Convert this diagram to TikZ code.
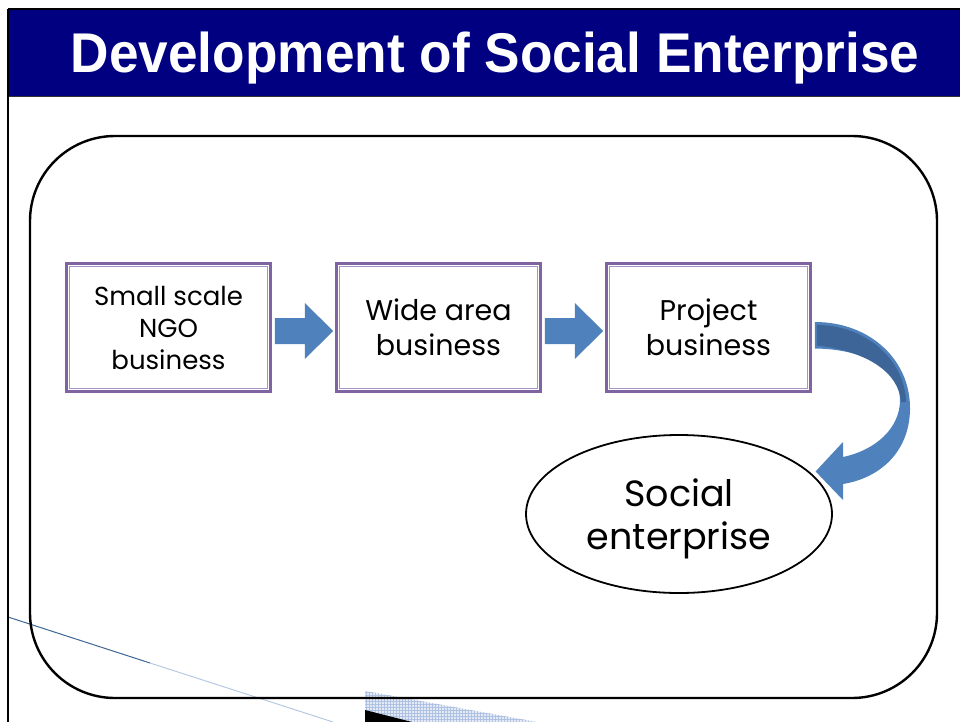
\documentclass[tikz,border=0pt]{standalone}
\usepackage{fontspec}
\setmainfont{Liberation Sans}
\newfontfamily\gothic{Poppins}
\usetikzlibrary{calc,patterns,shapes.geometric}
\definecolor{navyband}{HTML}{000080}
\definecolor{ablue}{HTML}{4F81BD}
\definecolor{adark}{HTML}{3E6598}
\definecolor{boxpurple}{HTML}{8064A2}
\definecolor{boxinner}{HTML}{A594C4}
\definecolor{gridfill}{HTML}{E4EAF5}
\definecolor{gridline}{HTML}{AFC2E2}
\tikzset{
  nbox/.style={draw=boxpurple, line width=2.6pt, fill=white, minimum width=204pt, minimum height=128pt, inner sep=0pt, align=center},
  ibox/.style={draw=boxinner, line width=1pt},
  frametxt/.style={font=\gothic\fontsize{28.5}{35}\selectfont},
  smalltxt/.style={font=\gothic\fontsize{26}{32}\selectfont},
  bigtxt/.style={font=\gothic\fontsize{36.5}{43}\selectfont},
}
\begin{document}
\begin{tikzpicture}[x=1pt,y=-1pt]
\useasboundingbox (0,0) rectangle (960,722);
\fill[white] (0,0) rectangle (960,722);
% decorations bottom left
\draw[color=ablue!80!black, line width=1pt] (8,617) -- (150,663);
\draw[color=ablue!45, line width=0.9pt] (150,663) -- (333,722);
\fill[gridfill] (365,691) -- (537,722) -- (365,722) -- cycle;
\fill[pattern=grid, pattern color=gridline] (365,691) -- (537,722) -- (365,722) -- cycle;
\fill[black] (365,710) -- (412,722) -- (365,722) -- cycle;
% header
\fill[navyband] (8,9) rectangle (960,97);
\draw[line width=2pt] (8,9) -- (960,9);
\draw[line width=1pt, color=black!80] (8,97) -- (960,97);
\draw[line width=1.6pt] (8,9) -- (8,722);
\node[anchor=base, text=white, font=\bfseries\fontsize{56}{60}\selectfont] (title) at (495,73)
  {\scalebox{0.95}[1]{Development of Social Enterprise}};
% main rounded frame
\draw[line width=2.4pt, rounded corners=85pt] (30,136) rectangle (937,698);
% boxes
\node[nbox, smalltxt] (b1) at (168.5,327.5) {Small scale\\NGO\\business};
\node[nbox, frametxt] (b2) at (438.5,327.5) {Wide area\\business};
\node[nbox, frametxt] (b3) at (708.5,327.5) {Project\\business};
\foreach \b in {b1,b2,b3}{
  \draw[ibox] ([shift={(4,4)}]\b.north west) rectangle ([shift={(-4,-4)}]\b.south east);
}
% ellipse
\node[ellipse, draw, line width=1.8pt, minimum width=306pt, minimum height=158pt, inner sep=0pt] (se) at (679,514) {};
\node[align=center, bigtxt, inner sep=0pt] (setext) at (679,519) {Social\\enterprise};
% straight block arrows
\foreach \s/\t in {b1/b2,b2/b3}{
  \fill[ablue] ($(\s.east)+(3,-9.5)$) -- ($(\s.east)+(33,-9.5)$) -- ($(\s.east)+(33,-24.5)$)
    -- ($(\t.west)+(-2,3.5)$) -- ($(\s.east)+(33,31.5)$) -- ($(\s.east)+(33,16.5)$)
    -- ($(\s.east)+(3,16.5)$) -- cycle;
}
% curved arrow
\coordinate (tip) at ($(se.17)+(4,-2)$);
\fill[ablue] ($(b3.east)+(3,-5.5)$) .. controls (870,322) and (911,360) .. (910,410)
  .. controls (909,452) and (880,478) .. (843,484) -- (843,500) -- (tip) -- (843,442) -- (843,457)
  .. controls (876,450) and (900,428) .. (900,400)
  .. controls (900,370) and (866,349) .. ($(b3.east)+(3,21)$) -- cycle;
\fill[adark] ($(b3.east)+(5,-2.5)$) .. controls (866,325) and (905,360) .. (906,402)
  -- (901,402) .. controls (899,372) and (866,351) .. ($(b3.east)+(5,18)$) -- cycle;
\end{tikzpicture}
\end{document}
